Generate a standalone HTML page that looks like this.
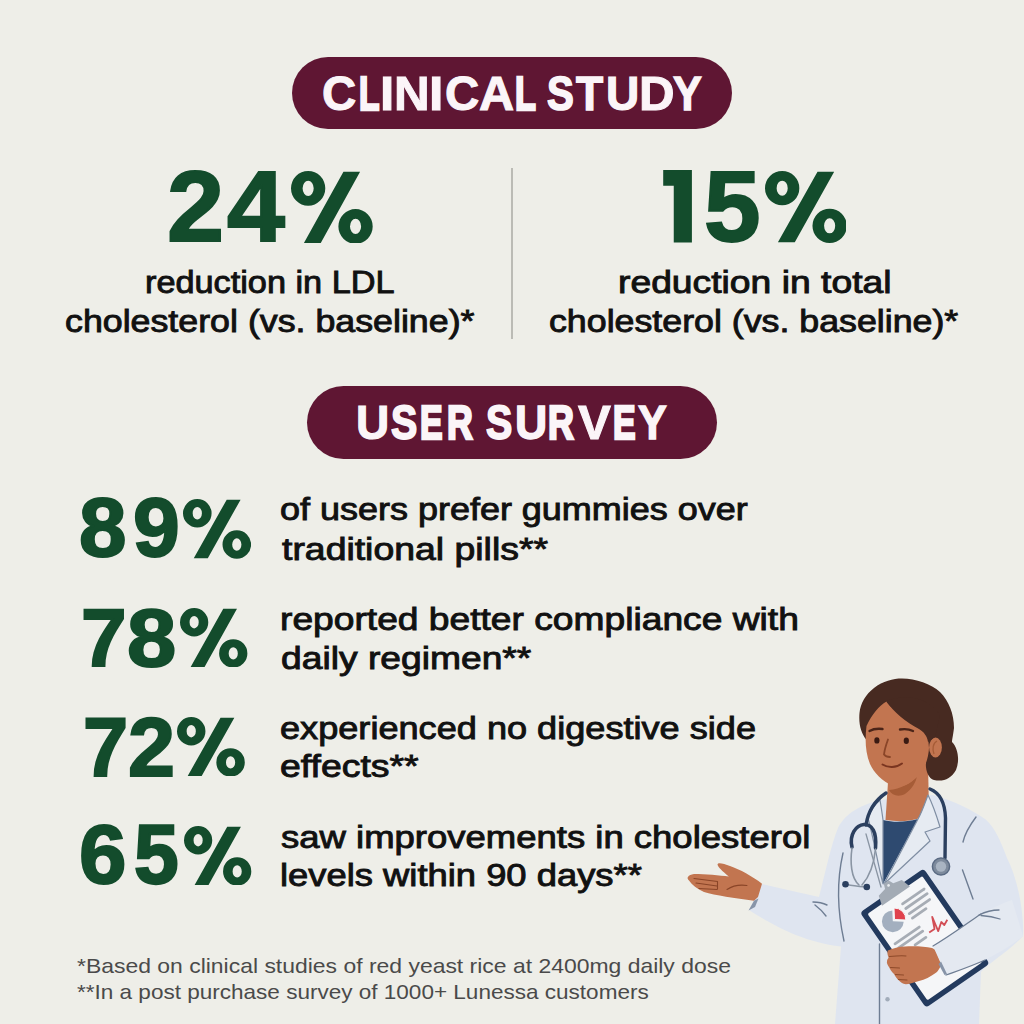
<!DOCTYPE html>
<html><head><meta charset="utf-8">
<style>
html,body{margin:0;padding:0;}
body{width:1024px;height:1024px;overflow:hidden;background:#eeeee8;position:relative;font-family:"Liberation Sans",sans-serif;}
.a,.lt{position:absolute;white-space:nowrap;line-height:1;transform-origin:0 0;}
.pill{position:absolute;background:#5f1633;border-radius:36px;}
.pt{color:#fbf5f8;font-weight:bold;-webkit-text-stroke:1px #fbf5f8;letter-spacing:-0.8px;}
.big{color:#134c2c;font-weight:bold;-webkit-text-stroke:2px #134c2c;}
.d{color:#111;-webkit-text-stroke:0.9px #111;}
.f{color:#4a4a4a;}
</style></head><body>
<div class="pill" style="left:292px;top:57px;width:440px;height:72px;"></div>
<div class="pill" style="left:307px;top:386px;width:410px;height:73px;border-radius:36.5px;"></div>
<div style="position:absolute;left:511px;top:168px;width:2px;height:171px;background:#bbbbb5;"></div>
<div class="lt pt" style="left:321.79px;top:69.66px;font-size:47.22px;transform:scaleX(1.0062);-webkit-text-stroke-width:1.00px;">C</div>
<div class="lt pt" style="left:358.88px;top:69.66px;font-size:47.22px;transform:scaleX(0.7111);-webkit-text-stroke-width:2.60px;">L</div>
<div class="lt pt" style="left:380.14px;top:69.66px;font-size:47.22px;transform:scaleX(1.0875);-webkit-text-stroke-width:1.00px;">I</div>
<div class="lt pt" style="left:393.87px;top:69.66px;font-size:47.22px;transform:scaleX(1.0448);-webkit-text-stroke-width:1.00px;">N</div>
<div class="lt pt" style="left:428.90px;top:69.66px;font-size:47.22px;transform:scaleX(1.1000);-webkit-text-stroke-width:1.00px;">I</div>
<div class="lt pt" style="left:444.89px;top:69.66px;font-size:47.22px;transform:scaleX(1.0063);-webkit-text-stroke-width:1.00px;">C</div>
<div class="lt pt" style="left:478.97px;top:69.66px;font-size:47.22px;transform:scaleX(1.0312);-webkit-text-stroke-width:1.00px;">A</div>
<div class="lt pt" style="left:515.25px;top:69.66px;font-size:47.22px;transform:scaleX(0.7259);-webkit-text-stroke-width:2.60px;">L</div>
<div class="lt pt" style="left:547.00px;top:69.66px;font-size:47.22px;transform:scaleX(0.8516);-webkit-text-stroke-width:1.69px;">S</div>
<div class="lt pt" style="left:576.30px;top:69.66px;font-size:47.22px;transform:scaleX(0.9414);-webkit-text-stroke-width:1.40px;">T</div>
<div class="lt pt" style="left:605.55px;top:69.66px;font-size:47.22px;transform:scaleX(0.9767);-webkit-text-stroke-width:1.10px;">U</div>
<div class="lt pt" style="left:638.57px;top:69.66px;font-size:47.22px;transform:scaleX(1.0433);-webkit-text-stroke-width:1.00px;">D</div>
<div class="lt pt" style="left:673.00px;top:69.66px;font-size:47.22px;transform:scaleX(0.9156);-webkit-text-stroke-width:1.37px;">Y</div>
<div class="lt pt" style="left:356.36px;top:399.27px;font-size:47.50px;transform:scaleX(0.9700);-webkit-text-stroke-width:1.11px;">U</div>
<div class="lt pt" style="left:390.70px;top:399.27px;font-size:47.50px;transform:scaleX(0.8290);-webkit-text-stroke-width:1.88px;">S</div>
<div class="lt pt" style="left:419.97px;top:399.27px;font-size:47.50px;transform:scaleX(0.7138);-webkit-text-stroke-width:2.60px;">E</div>
<div class="lt pt" style="left:446.50px;top:399.27px;font-size:47.50px;transform:scaleX(0.7515);-webkit-text-stroke-width:2.60px;">R</div>
<div class="lt pt" style="left:486.10px;top:399.27px;font-size:47.50px;transform:scaleX(0.8290);-webkit-text-stroke-width:1.88px;">S</div>
<div class="lt pt" style="left:514.72px;top:399.27px;font-size:47.50px;transform:scaleX(0.9400);-webkit-text-stroke-width:1.37px;">U</div>
<div class="lt pt" style="left:548.29px;top:399.27px;font-size:47.50px;transform:scaleX(0.7545);-webkit-text-stroke-width:2.60px;">R</div>
<div class="lt pt" style="left:578.00px;top:399.27px;font-size:47.50px;transform:scaleX(1.0375);-webkit-text-stroke-width:1.00px;">V</div>
<div class="lt pt" style="left:613.17px;top:399.27px;font-size:47.50px;transform:scaleX(0.7138);-webkit-text-stroke-width:2.60px;">E</div>
<div class="lt pt" style="left:637.80px;top:399.27px;font-size:47.50px;transform:scaleX(0.9094);-webkit-text-stroke-width:1.39px;">Y</div>
<div class="lt big" style="left:166.86px;top:156.37px;font-size:100.88px;transform:scaleX(1.0176);-webkit-text-stroke-width:2.00px;">2</div>
<div class="lt big" style="left:227.00px;top:156.37px;font-size:100.88px;transform:scaleX(1.0316);-webkit-text-stroke-width:2.00px;">4</div>
<div class="lt big" style="left:703.97px;top:155.57px;font-size:100.26px;transform:scaleX(1.0135);-webkit-text-stroke-width:2.00px;">5</div>
<div class="lt big" style="left:79.35px;top:486.26px;font-size:83.28px;transform:scaleX(1.0256);-webkit-text-stroke-width:2.00px;">8</div>
<div class="lt big" style="left:132.58px;top:486.26px;font-size:83.28px;transform:scaleX(1.0095);-webkit-text-stroke-width:2.00px;">9</div>
<div class="lt big" style="left:80.51px;top:595.56px;font-size:82.38px;transform:scaleX(0.9951);-webkit-text-stroke-width:2.00px;">7</div>
<div class="lt big" style="left:126.55px;top:595.56px;font-size:82.38px;transform:scaleX(1.0738);-webkit-text-stroke-width:2.00px;">8</div>
<div class="lt big" style="left:83.23px;top:706.56px;font-size:82.67px;transform:scaleX(0.9829);-webkit-text-stroke-width:2.00px;">7</div>
<div class="lt big" style="left:128.25px;top:706.56px;font-size:82.67px;transform:scaleX(1.0238);-webkit-text-stroke-width:2.00px;">2</div>
<div class="lt big" style="left:79.37px;top:812.36px;font-size:84.21px;transform:scaleX(1.0140);-webkit-text-stroke-width:2.00px;">6</div>
<div class="lt big" style="left:134.25px;top:812.36px;font-size:84.21px;transform:scaleX(0.9533);-webkit-text-stroke-width:2.31px;">5</div>
<div class="a d" style="left:145.25px;top:266.71px;font-size:31.00px;transform:scaleX(1.1055);">reduction in LDL</div>
<div class="a d" style="left:64.93px;top:306.00px;font-size:31.00px;transform:scaleX(1.1536);">cholesterol (vs. baseline)*</div>
<div class="a d" style="left:617.71px;top:266.71px;font-size:31.00px;transform:scaleX(1.2023);">reduction in total</div>
<div class="a d" style="left:549.35px;top:306.00px;font-size:31.00px;transform:scaleX(1.1530);">cholesterol (vs. baseline)*</div>
<div class="a d" style="left:280.35px;top:494.41px;font-size:31.00px;transform:scaleX(1.1601);">of users prefer gummies over</div>
<div class="a d" style="left:281.53px;top:533.50px;font-size:31.00px;transform:scaleX(1.2060);">traditional pills**</div>
<div class="a d" style="left:280.24px;top:604.00px;font-size:31.00px;transform:scaleX(1.1996);">reported better compliance with</div>
<div class="a d" style="left:281.00px;top:642.61px;font-size:31.00px;transform:scaleX(1.2006);">daily regimen**</div>
<div class="a d" style="left:280.35px;top:712.81px;font-size:31.00px;transform:scaleX(1.1655);">experienced no digestive side</div>
<div class="a d" style="left:280.33px;top:750.91px;font-size:31.00px;transform:scaleX(1.2064);">effects**</div>
<div class="a d" style="left:281.34px;top:821.71px;font-size:31.00px;transform:scaleX(1.1770);">saw improvements in cholesterol</div>
<div class="a d" style="left:280.17px;top:860.00px;font-size:31.00px;transform:scaleX(1.1730);">levels within 90 days**</div>
<div class="a f" style="left:77.00px;top:954.50px;font-size:21.00px;transform:scaleX(1.0920);">*Based on clinical studies of red yeast rice at 2400mg daily dose</div>
<div class="a f" style="left:77.00px;top:980.50px;font-size:21.00px;transform:scaleX(1.0728);">**In a post purchase survey of 1000+ Lunessa customers</div>
<svg class="pct" style="position:absolute;left:291.0px;top:170.7px;" width="81.7" height="72.8" viewBox="0 0 81 73" preserveAspectRatio="none"><path fill="#134c2c" fill-rule="evenodd" d="M0 17.4a17 17.4 0 1 0 34 0a17 17.4 0 1 0 -34 0ZM11.5 17.4a5.5 7.6 0 1 0 11 0a5.5 7.6 0 1 0 -11 0ZM47 55.6a17 17.4 0 1 0 34 0a17 17.4 0 1 0 -34 0ZM58.5 55.6a5.5 7.6 0 1 0 11 0a5.5 7.6 0 1 0 -11 0ZM52 0.8L68.5 0.8L29.5 72.2L12.8 72.2Z"/></svg>
<svg class="pct" style="position:absolute;left:764.5px;top:171.0px;" width="81.8" height="72.0" viewBox="0 0 81 73" preserveAspectRatio="none"><path fill="#134c2c" fill-rule="evenodd" d="M0 17.4a17 17.4 0 1 0 34 0a17 17.4 0 1 0 -34 0ZM11.5 17.4a5.5 7.6 0 1 0 11 0a5.5 7.6 0 1 0 -11 0ZM47 55.6a17 17.4 0 1 0 34 0a17 17.4 0 1 0 -34 0ZM58.5 55.6a5.5 7.6 0 1 0 11 0a5.5 7.6 0 1 0 -11 0ZM52 0.8L68.5 0.8L29.5 72.2L12.8 72.2Z"/></svg>
<svg class="pct" style="position:absolute;left:182.9px;top:499.1px;" width="68.1" height="59.8" viewBox="0 0 81 73" preserveAspectRatio="none"><path fill="#134c2c" fill-rule="evenodd" d="M0 17.4a17 17.4 0 1 0 34 0a17 17.4 0 1 0 -34 0ZM11.5 17.4a5.5 7.6 0 1 0 11 0a5.5 7.6 0 1 0 -11 0ZM47 55.6a17 17.4 0 1 0 34 0a17 17.4 0 1 0 -34 0ZM58.5 55.6a5.5 7.6 0 1 0 11 0a5.5 7.6 0 1 0 -11 0ZM52 0.8L68.5 0.8L29.5 72.2L12.8 72.2Z"/></svg>
<svg class="pct" style="position:absolute;left:180.3px;top:607.8px;" width="67.4" height="59.6" viewBox="0 0 81 73" preserveAspectRatio="none"><path fill="#134c2c" fill-rule="evenodd" d="M0 17.4a17 17.4 0 1 0 34 0a17 17.4 0 1 0 -34 0ZM11.5 17.4a5.5 7.6 0 1 0 11 0a5.5 7.6 0 1 0 -11 0ZM47 55.6a17 17.4 0 1 0 34 0a17 17.4 0 1 0 -34 0ZM58.5 55.6a5.5 7.6 0 1 0 11 0a5.5 7.6 0 1 0 -11 0ZM52 0.8L68.5 0.8L29.5 72.2L12.8 72.2Z"/></svg>
<svg class="pct" style="position:absolute;left:177.0px;top:716.8px;" width="67.8" height="59.6" viewBox="0 0 81 73" preserveAspectRatio="none"><path fill="#134c2c" fill-rule="evenodd" d="M0 17.4a17 17.4 0 1 0 34 0a17 17.4 0 1 0 -34 0ZM11.5 17.4a5.5 7.6 0 1 0 11 0a5.5 7.6 0 1 0 -11 0ZM47 55.6a17 17.4 0 1 0 34 0a17 17.4 0 1 0 -34 0ZM58.5 55.6a5.5 7.6 0 1 0 11 0a5.5 7.6 0 1 0 -11 0ZM52 0.8L68.5 0.8L29.5 72.2L12.8 72.2Z"/></svg>
<svg class="pct" style="position:absolute;left:184.3px;top:825.7px;" width="67.3" height="59.6" viewBox="0 0 81 73" preserveAspectRatio="none"><path fill="#134c2c" fill-rule="evenodd" d="M0 17.4a17 17.4 0 1 0 34 0a17 17.4 0 1 0 -34 0ZM11.5 17.4a5.5 7.6 0 1 0 11 0a5.5 7.6 0 1 0 -11 0ZM47 55.6a17 17.4 0 1 0 34 0a17 17.4 0 1 0 -34 0ZM58.5 55.6a5.5 7.6 0 1 0 11 0a5.5 7.6 0 1 0 -11 0ZM52 0.8L68.5 0.8L29.5 72.2L12.8 72.2Z"/></svg>
<svg class="pct" style="position:absolute;left:0;top:0;" width="1024" height="300"><path fill="#134c2c" d="M663.2 170L691.9 170L691.9 242.6L673.75 242.6L673.75 185.8L663.2 185.8Z"/></svg>
<svg style="position:absolute;left:0;top:0" width="1024" height="1024" viewBox="0 0 1024 1024">
<!-- coat body + left arm -->
<path fill="#dfe5f0" d="M880 800 C862 805 846 812 838 828 C831 845 826 870 819 897 C800 893 780 888 762 884 L749 910 C768 922 800 942 841 946.5 L835 1024 L979 1024 L981 972 C990 962 1008 952 1023 936 C1024 915 1019 882 1007 858 C999 836 992 823 982 817 C965 806 946 798 932 795 Z"/>
<!-- coat lines -->
<g fill="none" stroke="#6e7d93" stroke-width="1.4" stroke-linecap="round">
<path d="M843 853 C838 875 836 905 844 941"/>
<path d="M879.5 944 L879.5 1024"/>
<path d="M976 817 C970 825 965 833 963 842"/>
<path d="M962.5 870 L973 899"/>
<path d="M813 902 C818 902 823 903 827 905"/>
<path d="M815 905 C819 908 823 912 826 916"/>
</g>
<circle cx="887.5" cy="999.3" r="2.2" fill="#a2acba"/>
<!-- neck -->
<path fill="#c27550" d="M888 782 L928 762 L929 812 C922 820 905 823 885.5 820 Z"/>
<path fill="#a65c37" d="M889 790 C900 789 912 783 917 776 C916 782 912 789 905 794 C899 797 892 796 889 790 Z"/>
<!-- shirt -->
<path fill="#2e4a70" d="M883 820 C895 823 906 822 918 819 L883 884 Z"/>
<!-- left collar -->
<path fill="#e6ebf2" stroke="#7f8ea3" stroke-width="1.2" d="M880 800 C873 806 870 812 868 818 C874 840 878 865 883 884 L883 820 C882 812 881 806 880 800 Z"/>
<!-- right lapel -->
<path fill="#e6ebf2" stroke="#7f8ea3" stroke-width="1.2" stroke-linejoin="round" d="M928 795 C933 805 937 817 940 827 L925 832 L930 841 L884 884 L918 819 C922 812 925 803 928 795 Z"/>
<!-- stethoscope -->
<g fill="none" stroke-linecap="round">
<path stroke="#2b3f5f" stroke-width="3.4" d="M866 825 C868 812 874 801 886 793"/>
<path stroke="#2b3f5f" stroke-width="3.4" d="M930 789 C940 793 945 803 945.5 818 L945 858"/>
<path stroke="#2b3f5f" stroke-width="3.6" d="M852 847 C849 835 856 825 864 824.5 C872 824 877 832 875.5 848"/>
<path stroke="#8a95a3" stroke-width="1.6" d="M852 848 C850 862 851 878 859 885 M875.5 849 C874 864 870 876 862 885"/>
<path stroke="#8a95a3" stroke-width="1.4" d="M847 884.5 C853 886 860 886.5 866.5 887"/>
<path stroke="#8a95a3" stroke-width="1.3" d="M866 834 L881 887"/>
</g>
<circle cx="845.5" cy="884.3" r="3.3" fill="#2b3f5f"/>
<circle cx="866.8" cy="887" r="3.3" fill="#2b3f5f"/>
<circle cx="941" cy="866.5" r="8.6" fill="#7d8a9c" stroke="#5a6a82" stroke-width="1.5"/>
<circle cx="941" cy="866.5" r="5.2" fill="#a9b4c2"/>
<!-- head: bun + hair back -->
<path fill="#472a21" d="M866.5 740 C861 733 858.5 724 859.5 713 C860.5 703 866 694 874 688 C883 681 893 678.5 902 678.5 C916 678.5 931 684 940 692 C949 701 954 714 954 728 C953 736 952 740 952 742 C958 748 960 760 956 770 C951 779 943 782 934 780 C928 778 925 770 926 760 L927 740 L900 745 L870 745 Z"/>
<!-- face -->
<path fill="#c27550" d="M866.5 726 C865 738 865 752 870 764 C874 773 882 781 893 786 C902 789 912 783 920 774 C926 766 928.5 757 929 748 L927.5 731 C920 722 908 716 897 711 C890 707 887 703 886.5 701.5 C879 706 872 714 866.5 726 Z"/>
<!-- ear -->
<ellipse cx="935.5" cy="747.5" rx="6.4" ry="10" fill="#c27550"/>
<path fill="none" stroke="#a65c37" stroke-width="1.3" d="M937 741 C933 743 932 749 934 754"/>
<!-- hair front sweep -->
<path fill="#472a21" d="M886.5 701 C893 712 906 722 919 729 C924 732 927 736 928 742 L935 737 L940 715 C930 700 910 692 886.5 701 Z"/>
<!-- features -->
<ellipse cx="876.9" cy="740.4" rx="2.6" ry="3.2" fill="#3a1a12"/>
<ellipse cx="906.3" cy="740.8" rx="2.6" ry="3.2" fill="#3a1a12"/>
<g fill="none" stroke-linecap="round">
<path stroke="#4a2418" stroke-width="2.4" d="M869.5 731 C873 729 878 728.5 882.5 729"/>
<path stroke="#4a2418" stroke-width="2.4" d="M900 729.5 C904 728.8 909 729 913 731"/>
<path stroke="#8a4528" stroke-width="1.8" d="M888 739.5 C886 745 884.5 750 884 754.5 C885.5 756.5 888 757 890 757"/>
<path stroke="#7a3520" stroke-width="2" d="M882.5 764.5 C888 768 896 768 902 763.5"/>
</g>
<!-- pointing hand -->
<path fill="#c27550" d="M762 883.7 C752 876 740 869.5 730 866 C724 864 718 862 717.5 864.5 C718 867 722 871 728.8 876.4 C720 875.5 705 874 694 874 C688 875 686 878 689 880.5 C692 885 697 889 704 892 C715 895.5 735 898 754 900.8 L758 897 Z"/>
<g fill="none" stroke="#8a4528" stroke-width="1.1" stroke-linecap="round" stroke-linejoin="round">
<path d="M694 878.5 L717.5 881.5 L717.5 889"/>
<path d="M696 883 L717 886"/>
<path d="M699 888.5 L717 889.5"/>
<path d="M727 889.5 C733 885.5 740 884.5 747 885.5"/>
</g>
<path fill="#8794a8" d="M748.5 910.5 L754 900.8 L758.5 898.5 L755 907 Z"/>
<!-- clipboard -->
<g transform="translate(925 938) rotate(-34.7)">
<rect x="-39" y="-58" width="77.5" height="116" rx="4" fill="#233a5e"/>
<rect x="-33.5" y="-52.5" width="66.5" height="105" rx="1.5" fill="#f5f6f8"/>
<g stroke="#a7adb5" stroke-width="2.8" stroke-linecap="round" fill="none">
<path d="M1 -40.8 L27 -40.8"/><path d="M1 -35.2 L27 -35.2"/><path d="M1 -29 L25.7 -29"/><path d="M1 -23.5 L17.5 -23.5"/>
<path d="M-28 -12.3 L1.5 -12.3"/><path d="M-27.3 -6.9 L2 -6.9"/><path d="M-12 0 L1.1 0"/>
</g>
<path fill="#a3abb5" d="M-17 -51 L-14 -61 L-5 -63 L-3 -68 L3 -68 L5 -63 L14 -61 L17 -51 Z"/>
<circle cx="0" cy="-64" r="1.4" fill="#e8ebef"/>
</g>
<!-- pie -->
<path fill="#a3afbf" d="M892.8 921.3 L892.3 910.4 A10.9 10.9 0 1 0 903.7 921.8 Z"/>
<path fill="#e0424d" stroke="#f5f6f8" stroke-width="1" d="M894.5 919.5 L894 908 A11.5 11.5 0 0 1 905.8 920 Z"/>
<path fill="none" stroke="#d24e55" stroke-width="1.8" stroke-linejoin="round" d="M929.2 932.6 L934.5 928.9 L932.2 916.8 L938.2 931.1 L941.3 922 L944.3 925 L947.3 919.8"/>
<!-- holding hand -->
<path fill="#c27550" d="M887.8 950.6 C893 948 899 946.7 905 946.5 C915 946 925 946.5 932 948 L935 949.5 C938 955 940 960 941 964.7 C940 968 938 971 936.3 972.5 C930 977 925 979.5 919 981 C913 983 909 984.2 905.8 984.2 C902.5 983.8 901 982.5 899.5 981 C896.5 978.5 895 976 894 974 C891.5 971.5 890 969.5 889.4 967.8 C887.5 965 886.5 963 887 961.6 C887 959.5 888 958.5 888.6 957.7 C887.5 955 887 952.5 887.8 950.6 Z"/>
<g fill="none" stroke="#8e4a2a" stroke-width="1.1" stroke-linecap="round">
<path d="M889.5 956.5 C895 956 901 955.5 906 956"/>
<path d="M890.5 967.5 L899.5 968"/>
<path d="M895.5 974.5 L903.5 975"/>
<path d="M898.5 979.5 L907 980"/>
</g>
<!-- right sleeve -->
<path fill="#e4e9f1" d="M933 946 C950 936 966 924 981 914 C992 908 1003 903 1012 900 L1023 936 C1012 945 1000 952 985 960 C972 966 958 971 946 975 Z"/>
<g fill="none" stroke="#6e7d93" stroke-width="1.3" stroke-linecap="round">
<path d="M933 946 C950 936 966 924 981 914"/>
<path d="M946 975 C960 970 972 966 985 960"/>
<path d="M979 915 C985 912 992 910 999 910"/>
<path d="M981 915.5 C988 916 994 917 1000 919"/>
</g>
<path fill="#8794a8" d="M938.5 964 L944.5 975 L947 974 L941 961.5 Z"/>
</svg>

</body></html>
